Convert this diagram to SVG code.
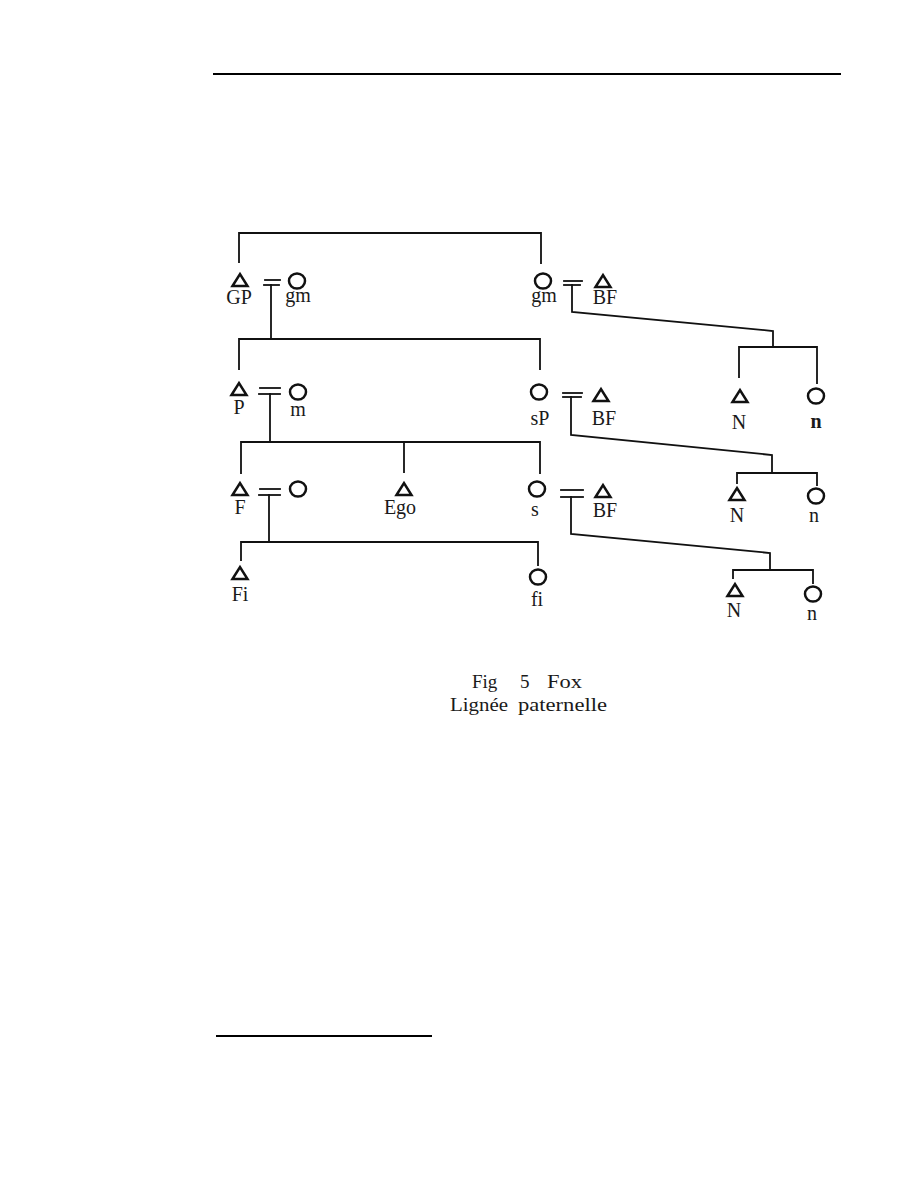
<svg xmlns="http://www.w3.org/2000/svg" xmlns:xlink="http://www.w3.org/1999/xlink" width="918" height="1188" viewBox="0 0 918 1188">
<style>
.ln{stroke:#111;stroke-width:1.8;fill:none;stroke-linecap:square}
.rule{stroke:#000;stroke-width:2;fill:none}
.sym{stroke:#111;stroke-width:2.5;fill:none;stroke-linejoin:miter}
.lab{font-family:"Liberation Serif","Times New Roman",serif;font-size:20px;fill:#1a1a1a;text-anchor:middle}
.bold{font-weight:bold}
.cap{font-family:"Liberation Serif","Times New Roman",serif;font-size:19px;fill:#1a1a1a}
</style>
<defs>
<polygon id="tri" class="sym" points="-7.5,6 0,-6 7.5,6"/>
<ellipse id="circ" class="sym" rx="8" ry="7.5"/>
</defs>
<rect width="918" height="1188" fill="#fff"/>
<line class="rule" x1="213" y1="74" x2="841" y2="74"/>
<line class="rule" x1="216" y1="1036" x2="432" y2="1036"/>

<g id="connectors">
<polyline class="ln" points="239,262 239,233 541,233 541,263"/>
<line class="ln" x1="265" y1="280" x2="280" y2="280"/>
<line class="ln" x1="264" y1="285" x2="279" y2="285"/>
<line class="ln" x1="271" y1="285" x2="271" y2="339"/>
<line class="ln" x1="564" y1="281" x2="582" y2="281"/>
<line class="ln" x1="564" y1="285" x2="580" y2="285"/>
<polyline class="ln" points="572,285 572,312 773,331 773,347"/>
<polyline class="ln" points="739,377 739,347 817,347 817,383"/>
<polyline class="ln" points="239,369 239,339 540,339 540,369"/>
<line class="ln" x1="260" y1="388" x2="280" y2="388"/>
<line class="ln" x1="259" y1="394" x2="280" y2="394"/>
<line class="ln" x1="270" y1="394" x2="270" y2="442"/>
<line class="ln" x1="563" y1="393" x2="582" y2="393"/>
<line class="ln" x1="563" y1="397" x2="581" y2="397"/>
<polyline class="ln" points="571,397 571,435 772,455 772,473"/>
<polyline class="ln" points="737,483 737,473 817,473 817,485"/>
<polyline class="ln" points="241,473 241,442 540,442 540,473"/>
<line class="ln" x1="404" y1="442" x2="404" y2="472"/>
<line class="ln" x1="260" y1="489" x2="280" y2="489"/>
<line class="ln" x1="259" y1="495" x2="280" y2="495"/>
<line class="ln" x1="269" y1="495" x2="269" y2="542"/>
<line class="ln" x1="561" y1="490" x2="583" y2="490"/>
<line class="ln" x1="561" y1="497" x2="583" y2="497"/>
<polyline class="ln" points="571,497 571,534 770,553 770,570"/>
<polyline class="ln" points="733,578 733,570 813,570 813,583"/>
<polyline class="ln" points="241,560 241,542 538,542 538,565"/>
</g>

<g id="node-GP"><use xlink:href="#tri" x="240" y="280"/><text class="lab" x="239" y="304">GP</text></g>
<g id="node-gm1"><use xlink:href="#circ" x="297" y="281"/><text class="lab" x="298" y="302">gm</text></g>
<g id="node-gm2"><use xlink:href="#circ" x="543" y="281"/><text class="lab" x="544" y="302">gm</text></g>
<g id="node-BF1"><use xlink:href="#tri" x="603" y="281"/><text class="lab" x="605" y="304">BF</text></g>
<g id="node-N1"><use xlink:href="#tri" x="740" y="396"/><text class="lab" x="739" y="429">N</text></g>
<g id="node-n1"><use xlink:href="#circ" x="816" y="396"/><text class="lab bold" x="816" y="428">n</text></g>

<g id="node-P"><use xlink:href="#tri" x="239" y="389"/><text class="lab" x="239" y="414">P</text></g>
<g id="node-m"><use xlink:href="#circ" x="298" y="392"/><text class="lab" x="298" y="416">m</text></g>
<g id="node-sP"><use xlink:href="#circ" x="539" y="392"/><text class="lab" x="540" y="425">sP</text></g>
<g id="node-BF2"><use xlink:href="#tri" x="601" y="395"/><text class="lab" x="604" y="425">BF</text></g>
<g id="node-N2"><use xlink:href="#tri" x="737" y="494"/><text class="lab" x="737" y="522">N</text></g>
<g id="node-n2"><use xlink:href="#circ" x="816" y="496"/><text class="lab" x="814" y="522">n</text></g>

<g id="node-F"><use xlink:href="#tri" x="240" y="489"/><text class="lab" x="240" y="514">F</text></g>
<g id="node-Fwife"><use xlink:href="#circ" x="298" y="489"/></g>
<g id="node-Ego"><use xlink:href="#tri" x="404" y="489"/><text class="lab" x="400" y="514">Ego</text></g>
<g id="node-s"><use xlink:href="#circ" x="537" y="489"/><text class="lab" x="535" y="516">s</text></g>
<g id="node-BF3"><use xlink:href="#tri" x="603" y="491"/><text class="lab" x="605" y="517">BF</text></g>
<g id="node-N3"><use xlink:href="#tri" x="735" y="590"/><text class="lab" x="734" y="617">N</text></g>
<g id="node-n3"><use xlink:href="#circ" x="813" y="594"/><text class="lab" x="812" y="620">n</text></g>

<g id="node-Fi"><use xlink:href="#tri" x="240" y="573"/><text class="lab" x="240" y="601">Fi</text></g>
<g id="node-fi"><use xlink:href="#circ" x="538" y="577"/><text class="lab" x="537" y="606">fi</text></g>

<g id="caption">
<text class="cap" x="472" y="688">Fig</text>
<text class="cap" x="520" y="688">5</text>
<text class="cap" x="547" y="688" textLength="35" lengthAdjust="spacingAndGlyphs">Fox</text>
<text class="cap" x="450" y="711" textLength="58" lengthAdjust="spacingAndGlyphs">Lignée</text>
<text class="cap" x="518" y="711" textLength="89" lengthAdjust="spacingAndGlyphs">paternelle</text>
</g>
</svg>
